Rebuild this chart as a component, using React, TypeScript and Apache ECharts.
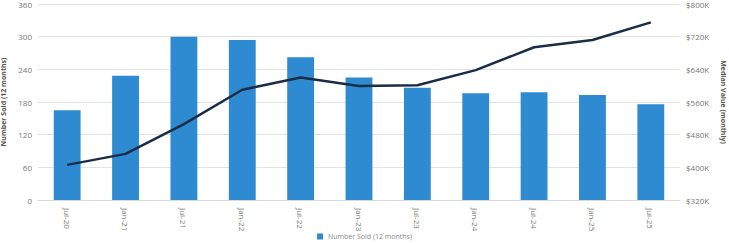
import React, { useEffect, useRef } from "react";
import * as echarts from "echarts";

const categories = ["Jul-20", "Jan-21", "Jul-21", "Jan-22", "Jul-22", "Jan-23", "Jul-23", "Jan-24", "Jul-24", "Jan-25", "Jul-25"];
const numberSold = [165, 228, 300, 294, 262, 225, 206, 196, 198, 193, 176];
const medianValue = [406, 433, 506, 590, 620, 599, 601, 638, 694, 712, 755];
const leftTicks = { min: 0, max: 360, interval: 60 };
const rightTicks = { min: 320, max: 800, interval: 80 };

export default function App() {
  const ref = useRef<HTMLDivElement>(null);
  useEffect(() => {
    if (!ref.current) return;
    const chart = echarts.init(ref.current, null, { renderer: "svg" });
    const font = "'Open Sans', 'Noto Sans', sans-serif";
    chart.setOption({
      animation: false,
      textStyle: { fontFamily: font },
      grid: { left: 38, right: 49, top: 4, bottom: 43, containLabel: false, outerBoundsMode: "none" },
      legend: {
        data: ["Number Sold (12 months)"],
        top: 233,
        left: "center",
        itemWidth: 6,
        itemHeight: 6,
        itemGap: 6,
        icon: "rect",
        padding: 0,
        textStyle: { fontSize: 7, color: "#8a8a8a", fontFamily: font },
      },
      xAxis: {
        type: "category",
        data: categories,
        axisTick: { show: false },
        axisLine: { show: true, lineStyle: { color: "#d9d9d9" } },
        axisLabel: { rotate: -90, fontSize: 8, color: "#777", margin: 8 },
      },
      yAxis: [
        {
          type: "value",
          ...leftTicks,
          name: "Number Sold (12 months)",
          nameLocation: "middle",
          nameGap: 29,
          nameTextStyle: { fontSize: 7, color: "#555", fontWeight: "bold" },
          axisLabel: { fontSize: 8, color: "#777", margin: 6 },
          splitLine: { lineStyle: { color: "#e3e3e3" } },
          axisLine: { show: false },
          axisTick: { show: false },
        },
        {
          type: "value",
          ...rightTicks,
          name: "Median Value (monthly)",
          nameLocation: "middle",
          nameGap: 36,
          nameRotate: -90,
          nameTextStyle: { fontSize: 7, color: "#555", fontWeight: "bold" },
          axisLabel: { fontSize: 8, color: "#777", margin: 6, formatter: (v: number) => "$" + v + "K" },
          splitLine: { show: false },
          axisLine: { show: false },
          axisTick: { show: false },
        },
      ],
      series: [
        {
          name: "Number Sold (12 months)",
          type: "bar",
          data: numberSold,
          barWidth: "46%",
          itemStyle: { color: "#2f8bd1" },
        },
        {
          name: "Median Value (monthly)",
          type: "line",
          yAxisIndex: 1,
          data: medianValue,
          showSymbol: false,
          symbol: "none",
          lineStyle: { color: "#1b2c48", width: 2.5 },
        },
      ],
    });
    return () => chart.dispose();
  }, []);
  return <div ref={ref} style={{ width: 729, height: 243, position: "absolute", left: 0, top: 0 }} />;
}
